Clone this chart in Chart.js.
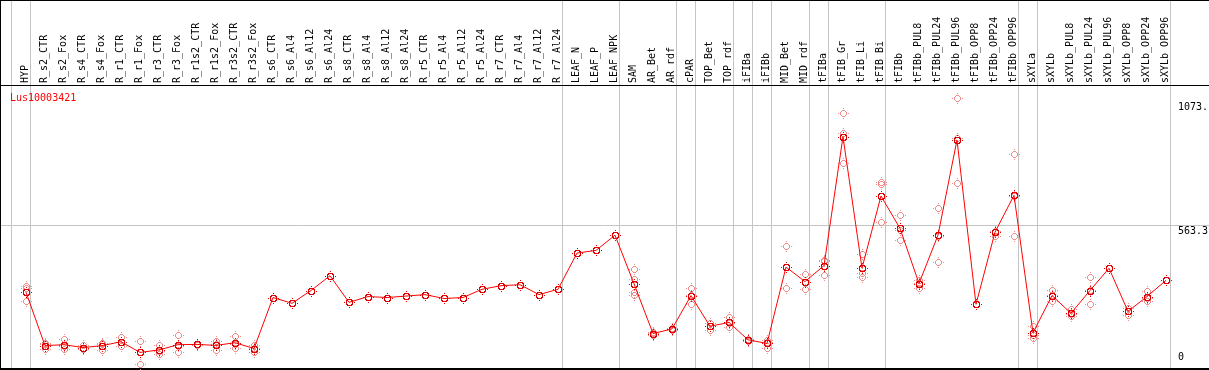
<!DOCTYPE html>
<html>
<head>
<meta charset="utf-8">
<script src="https://cdn.jsdelivr.net/npm/chart.js@4/dist/chart.umd.min.js"></script>
<style>
html, body { margin: 0; padding: 0; background: #fff; }
canvas { display: block; }
</style>
</head>
<body>
<canvas id="myChart" width="1209" height="370"></canvas>
<script>
var categories = ['HYP', 'R_s2_CTR', 'R_s2_Fox', 'R_s4_CTR', 'R_s4_Fox', 'R_r1_CTR', 'R_r1_Fox',
  'R_r3_CTR', 'R_r3_Fox', 'R_r1s2_CTR', 'R_r1s2_Fox', 'R_r3s2_CTR', 'R_r3s2_Fox', 'R_s6_CTR',
  'R_s6_Al4', 'R_s6_Al12', 'R_s6_Al24', 'R_s8_CTR', 'R_s8_Al4', 'R_s8_Al12', 'R_s8_Al24',
  'R_r5_CTR', 'R_r5_Al4', 'R_r5_Al12', 'R_r5_Al24', 'R_r7_CTR', 'R_r7_Al4', 'R_r7_Al12', 'R_r7_Al24',
  'LEAF_N', 'LEAF_P', 'LEAF_NPK', 'SAM', 'AR_Bet', 'AR_rdf', 'cPAR', 'TOP_Bet', 'TOP_rdf',
  'iFIBa', 'iFIBb', 'MID_Bet', 'MID_rdf', 'tFIBa', 'tFIB_Gr', 'tFIB_Li', 'tFIB_Bi', 'tFIBb',
  'tFIBb_PUL8', 'tFIBb_PUL24', 'tFIBb_PUL96', 'tFIBb_OPP8', 'tFIBb_OPP24', 'tFIBb_OPP96',
  'sXYLa', 'sXYLb', 'sXYLb_PUL8', 'sXYLb_PUL24', 'sXYLb_PUL96', 'sXYLb_OPP8', 'sXYLb_OPP24', 'sXYLb_OPP96'];

// how many categories sit in each group (separator after each)
var groupSizes = [1, 28, 3, 3, 1, 2, 1, 1, 2, 1, 3, 7, 1, 7];

var seriesName = 'Lus10003421';

// mean values (line)
var meanValues = [286, 65, 69, 57, 65, 81, 37, 47, 69, 70, 66, 77, 53,
  264, 240, 293, 354, 244, 268, 264, 270, 276, 260, 264, 298, 313, 317, 276, 298,
  448, 459, 522,
  321, 115, 134, 272, 145, 161, 89, 74, 390, 330, 396,
  929, 386, 684, 550, 322, 522, 916, 236, 534, 687,
  118, 272, 199, 293, 385, 207, 268, 335];

// replicate values (pale circles)
var rep1 = [313, 50, 92, 66, 77, 99, 85, 67, 107, 72, 83, 103, 66,
  null, null, null, null, null, null, null, null, null, null, null, null, null, null, null, null,
  null, null, null,
  382, 120, 138, 305, 159, 185, 92, 87, 476, 362, 416,
  1028, 446, 740, 606, 337, 635, 1089, null, 520, 859,
  148, 295, 215, 347, null, 222, 290, null];
var rep2 = [302, 74, 50, 50, 47, 65, -12, 30, 37, 68, 45, 57, 38,
  null, null, null, null, null, null, null, null, null, null, null, null, null, null, null, null,
  null, null, null,
  340, 107, 130, 236, 130, 141, 86, 55, 305, 301, 419,
  943, 364, 732, 500, 303, 411, 736, null, 541, 517,
  98, 248, 188, 236, null, 191, 250, null];
var rep3 = [248, 71, 65, 55, 71, 79, 38, 44, 63, 70, 70, 71, 55,
  null, null, null, null, null, null, null, null, null, null, null, null, null, null, null, null,
  null, null, null,
  287, 118, 134, 275, 146, 157, 89, 80, 389, 327, 356,
  822, 348, 578, 544, 326, 520, 923, null, 541, 685,
  108, 273, 194, 296, null, 208, 264, null];
var rep4 = [null, null, null, null, null, null, null, null, null, null, null, null, null,
  null, null, null, null, null, null, null, null, null, null, null, null, null, null, null, null,
  null, null, null,
  276, null, null, null, null, null, null, null, null, null, null,
  null, null, null, null, null, null, null, null, null, null,
  null, null, null, null, null, null, null, null];

var yTicks = [0, 563.3, 1073];
var yTickLabels = ['0', '563.3', '1073.'];

var FONT = '"DejaVu Sans Mono", "Liberation Mono", monospace';

// pixel ring marker with small ticks at N/S/E/W
function makeMarker(color, rIn, rOut) {
  var c = document.createElement('canvas');
  c.width = 12; c.height = 12;
  var g = c.getContext('2d');
  g.fillStyle = color;
  for (var px = 0; px < 12; px++) {
    for (var py = 0; py < 12; py++) {
      var d = Math.sqrt((px - 6) * (px - 6) + (py - 6) * (py - 6));
      if (d >= rIn && d <= rOut) g.fillRect(px, py, 1, 1);
    }
  }
  g.fillRect(6, 1, 1, 1);
  g.fillRect(6, 11, 1, 1);
  g.fillRect(1, 6, 1, 1);
  g.fillRect(11, 6, 1, 1);
  return c;
}
var mainMarker = makeMarker('#e00000', 2.3, 3.8);
var paleMarker = makeMarker('rgb(238,140,140)', 2.5, 3.6);

var datasets = [{
  label: seriesName,
  data: meanValues,
  borderColor: '#ff0000',
  borderWidth: 1,
  pointStyle: mainMarker,
  pointRadius: 5,
  tension: 0,
  fill: false,
  clip: false,
  order: 0
}];
[rep1, rep2, rep3, rep4].forEach(function (r, k) {
  datasets.push({
    label: 'rep' + (k + 1),
    data: r,
    showLine: false,
    pointStyle: paleMarker,
    pointRadius: 5,
    clip: false,
    order: 1
  });
});

var frame = {
  id: 'frame',
  beforeDatasetsDraw: function (chart) {
    var c = chart.ctx, xs = chart.scales.x, ys = chart.scales.y;
    var W = chart.width, H = chart.height;
    var x0 = xs.getPixelForValue(0);
    var step = xs.getPixelForValue(1) - x0;
    c.save();
    c.strokeStyle = '#c4c4c4';
    c.lineWidth = 1;
    var ends = [-1], n = -1;
    groupSizes.forEach(function (g) { n += g; ends.push(n); });
    ends.forEach(function (e) {
      var x = Math.floor(x0 + (e + 0.25) * step) + 0.5;
      c.beginPath(); c.moveTo(x, 0); c.lineTo(x, H); c.stroke();
    });
    var gy = Math.round(ys.getPixelForValue(yTicks[1])) + 0.5;
    c.beginPath(); c.moveTo(0, gy); c.lineTo(W, gy); c.stroke();

    c.fillStyle = '#000';
    c.fillRect(0, 0, W, 1);
    c.fillRect(0, 85, W, 1);
    c.fillRect(0, 0, 1, H);
    c.fillRect(0, 368, W, 2);
    c.restore();
    c.imageSmoothingEnabled = false;
  },
  afterDraw: function (chart) {
    var c = chart.ctx, ys = chart.scales.y;
    c.save();
    c.font = '10px ' + FONT;
    c.textAlign = 'left';
    c.textBaseline = 'alphabetic';
    c.fillStyle = '#000';
    yTicks.forEach(function (v, k) {
      var p = ys.getPixelForValue(v);
      c.fillText(yTickLabels[k], 1178, k === 0 ? p - 1 : p + 8.4);
    });
    c.fillStyle = '#ff0000';
    c.fillText(seriesName, 10, 101);
    c.restore();
  }
};

var ctx = document.getElementById('myChart').getContext('2d');
var myChart = new Chart(ctx, {
  type: 'line',
  data: { labels: categories, datasets: datasets },
  options: {
    responsive: false,
    animation: false,
    devicePixelRatio: 1,
    layout: { padding: { left: 26, right: 0, top: 0, bottom: 1 } },
    plugins: { legend: { display: false }, tooltip: { enabled: false } },
    scales: {
      x: {
        type: 'category',
        position: 'top',
        offset: false,
        grid: { display: false, drawTicks: false },
        border: { display: false },
        ticks: {
          autoSkip: false,
          minRotation: 90,
          maxRotation: 90,
          padding: 2,
          color: '#000',
          font: { family: FONT, size: 10, lineHeight: '1px' }
        },
        afterFit: function (s) { s.height = 85; }
      },
      y: {
        position: 'right',
        min: -11,
        max: 1143.2,
        grid: { display: false, drawTicks: false },
        border: { display: false },
        ticks: { display: false },
        afterFit: function (s) { s.width = 43; }
      }
    }
  },
  plugins: [frame]
});
</script>
</body>
</html>
